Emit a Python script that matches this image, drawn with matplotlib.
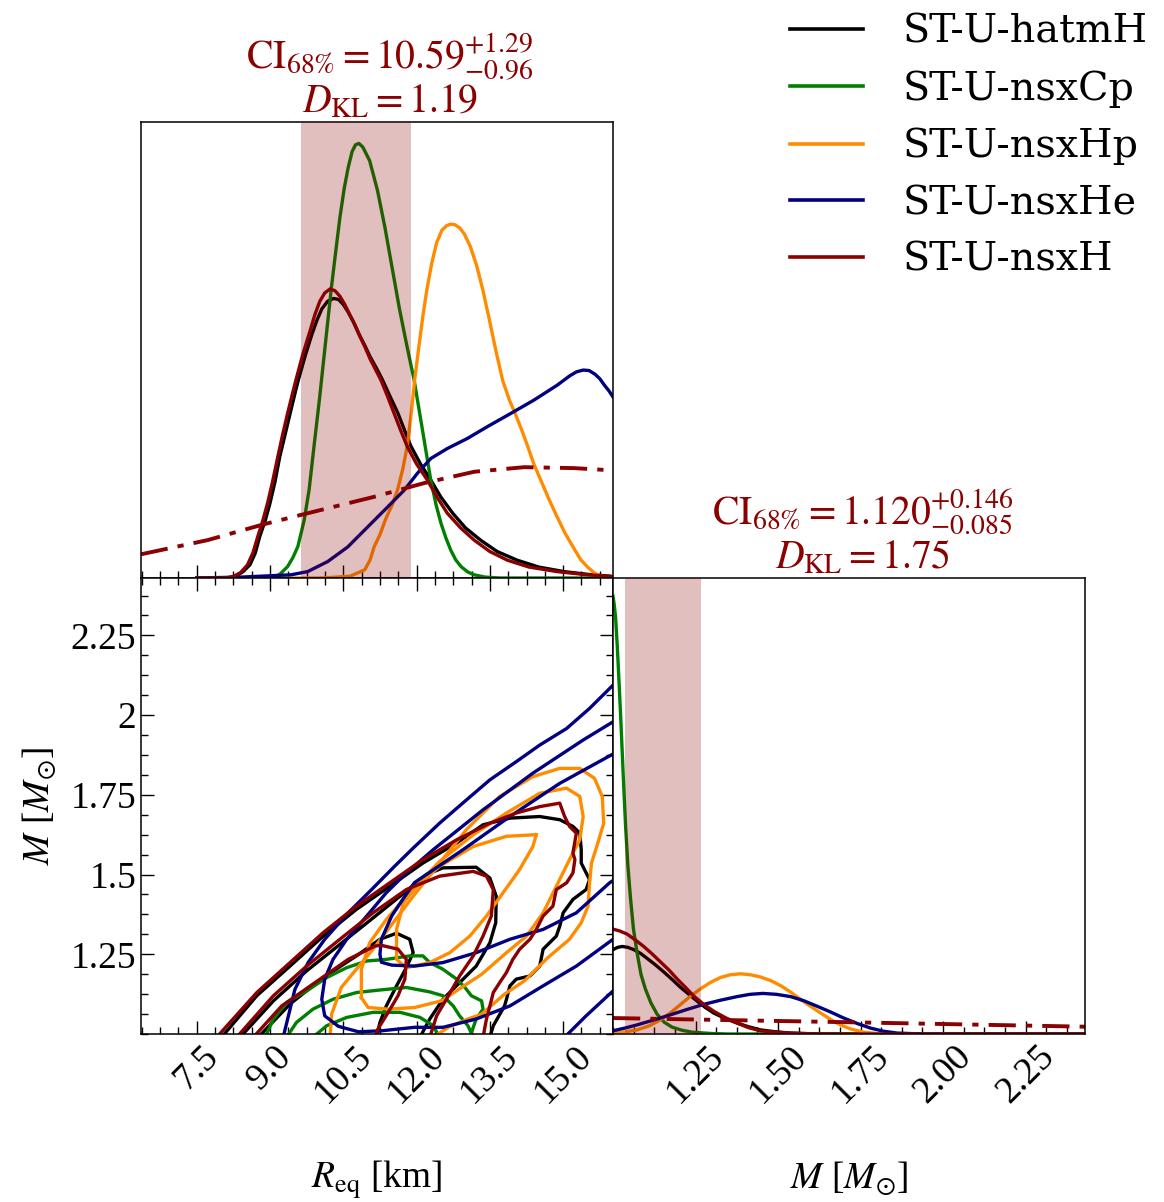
import numpy as np
import matplotlib
matplotlib.use('Agg')
import matplotlib.pyplot as plt
from matplotlib.ticker import FixedLocator, AutoMinorLocator

plt.rcParams['font.family'] = 'serif'
plt.rcParams['font.serif'] = ['Liberation Serif', 'DejaVu Serif']
plt.rcParams['mathtext.fontset'] = 'stix'

# --- series / legend ---
names = ['ST-U-hatmH', 'ST-U-nsxCp', 'ST-U-nsxHp', 'ST-U-nsxHe', 'ST-U-nsxH']
colors = ['black', 'green', 'darkorange', 'navy', 'darkred']

# limits
r_lim = [6.36, 16.02]
m_lim = [1.0, 2.43]

# --- 1D marginal of R_eq (heights as fraction of panel) ---
r_hatmH = [7.5, 8.0, 8.18, 8.30, 8.45, 8.59, 8.70, 8.79, 8.90, 9.00, 9.10, 9.20, 9.31, 9.41, 9.50, 9.58,
           9.72, 9.86, 9.96, 10.06, 10.18, 10.30, 10.40, 10.50, 10.60, 10.70, 10.82, 10.94, 11.05, 11.18,
           11.30, 11.48, 11.62, 11.75, 11.88, 12.08, 12.29, 12.50, 12.74, 13.0, 13.31, 13.65, 14.06, 14.50,
           15.02, 15.50, 15.95, 16.02]
p_hatmH = [0, 0, 0.001, 0.004, 0.014, 0.029, 0.055, 0.091, 0.125, 0.164, 0.21, 0.266, 0.315, 0.36, 0.40, 0.434,
           0.487, 0.535, 0.565, 0.59, 0.607, 0.613, 0.611, 0.60, 0.583, 0.563, 0.535, 0.51, 0.485, 0.46,
           0.435, 0.393, 0.361, 0.325, 0.29, 0.25, 0.215, 0.177, 0.142, 0.11, 0.083, 0.058, 0.039, 0.024,
           0.014, 0.008, 0.004, 0.003]
r_nsxCp = [7.5, 8.6, 9.08, 9.2, 9.36, 9.47, 9.57, 9.70, 9.80, 9.90, 10.01, 10.10, 10.18, 10.26, 10.35, 10.43,
           10.52, 10.60, 10.68, 10.75, 10.82, 10.90, 10.97, 11.04, 11.20, 11.35, 11.50, 11.65, 11.80, 11.95,
           12.12, 12.29, 12.40, 12.50, 12.60, 12.70, 12.80, 12.91, 13.05, 13.18, 13.4, 13.7, 16.02]
p_nsxCp = [0, 0, 0.002, 0.008, 0.025, 0.045, 0.069, 0.127, 0.193, 0.288, 0.39, 0.48, 0.56, 0.64, 0.72, 0.79,
           0.855, 0.90, 0.935, 0.95, 0.953, 0.945, 0.93, 0.915, 0.85, 0.77, 0.68, 0.59, 0.51, 0.434,
           0.325, 0.215, 0.16, 0.12, 0.088, 0.061, 0.04, 0.025, 0.013, 0.007, 0.002, 0, 0]
r_nsxHp = [7.5, 10.0, 10.23, 10.64, 10.94, 11.05, 11.13, 11.25, 11.37, 11.50, 11.61, 11.72, 11.81, 11.90,
           11.96, 12.05, 12.13, 12.21, 12.31, 12.41, 12.52, 12.62, 12.70, 12.78, 12.88, 12.98, 13.10, 13.23,
           13.36, 13.49, 13.62, 13.76, 13.90, 14.02, 14.15, 14.27, 14.40, 14.54, 14.70, 14.85, 15.03, 15.22,
           15.36, 15.50, 15.65, 15.83, 16.02]
p_nsxHp = [0, 0, 0.001, 0.004, 0.018, 0.04, 0.068, 0.095, 0.13, 0.16, 0.193, 0.24, 0.29, 0.37,
           0.434, 0.51, 0.575, 0.632, 0.69, 0.735, 0.763, 0.773, 0.776, 0.775, 0.768, 0.754, 0.727, 0.685,
           0.63, 0.566, 0.50, 0.434, 0.39, 0.36, 0.325, 0.29, 0.25, 0.215, 0.175, 0.14, 0.10, 0.065,
           0.04, 0.024, 0.01, 0.002, 0]
r_nsxHe = [7.5, 8.41, 9.43, 9.77, 10.18, 10.59, 11.00, 11.41, 11.75, 12.02, 12.29, 12.63, 13.04, 13.45,
           13.93, 14.40, 14.88, 15.13, 15.27, 15.41, 15.53, 15.65, 15.75, 15.85, 15.94, 16.02]
p_nsxHe = [0, 0.002, 0.007, 0.014, 0.036, 0.068, 0.112, 0.156, 0.193, 0.230, 0.262, 0.284, 0.306, 0.332,
           0.361, 0.390, 0.423, 0.443, 0.452, 0.456, 0.455, 0.447, 0.437, 0.422, 0.41, 0.397]
r_nsxH = [7.5, 8.0, 8.15, 8.26, 8.40, 8.54, 8.65, 8.75, 8.85, 8.95, 9.05, 9.16, 9.26, 9.36, 9.45, 9.53,
          9.67, 9.82, 9.92, 10.02, 10.12, 10.23, 10.33, 10.43, 10.53, 10.63, 10.74, 10.84, 10.95, 11.05,
          11.16, 11.27, 11.40, 11.54, 11.67, 11.81, 12.0, 12.22, 12.42, 12.63, 12.90, 13.18, 13.50, 13.86,
          14.30, 14.88, 15.40, 15.90, 16.02]
p_nsxH = [0, 0, 0.001, 0.004, 0.012, 0.029, 0.055, 0.091, 0.125, 0.164, 0.21, 0.266, 0.315, 0.361, 0.40, 0.434,
          0.49, 0.542, 0.578, 0.607, 0.625, 0.634, 0.630, 0.618, 0.60, 0.578, 0.555, 0.53, 0.505, 0.48,
          0.457, 0.434, 0.40, 0.361, 0.325, 0.288, 0.25, 0.215, 0.177, 0.142, 0.11, 0.083, 0.058, 0.039,
          0.024, 0.014, 0.008, 0.004, 0.003]
r_prior = [6.36, 7.72, 8.88, 9.77, 11.13, 12.15, 13.18, 14.20, 15.22, 16.02]
p_prior_r = [0.052, 0.083, 0.118, 0.142, 0.178, 0.208, 0.233, 0.243, 0.241, 0.236]

# --- 1D marginal of M ---
m_hatmH = [1.0, 1.014, 1.028, 1.045, 1.063, 1.083, 1.103, 1.128, 1.154, 1.18, 1.205, 1.23, 1.255, 1.28,
           1.305, 1.34, 1.376, 1.41, 1.447, 1.49, 1.538, 1.6, 1.7, 2.43]
q_hatmH = [0.185, 0.190, 0.192, 0.190, 0.185, 0.177, 0.166, 0.152, 0.136, 0.119, 0.102, 0.087, 0.072, 0.058,
           0.046, 0.034, 0.024, 0.016, 0.009, 0.005, 0.002, 0.0005, 0, 0]
m_nsxCp = [1.0, 1.004, 1.008, 1.013, 1.018, 1.023, 1.028, 1.033, 1.038, 1.045, 1.053, 1.062, 1.073, 1.085,
           1.098, 1.115, 1.134, 1.155, 1.179, 1.21, 1.24, 1.30, 1.35, 2.43]
q_nsxCp = [0.96, 0.94, 0.912, 0.85, 0.776, 0.70, 0.617, 0.535, 0.457, 0.37, 0.298, 0.23, 0.178, 0.13,
           0.099, 0.068, 0.043, 0.026, 0.015, 0.008, 0.004, 0.001, 0, 0]
m_nsxHp = [1.0, 1.04, 1.073, 1.11, 1.144, 1.175, 1.205, 1.235, 1.265, 1.295, 1.326, 1.356, 1.386, 1.416,
           1.447, 1.478, 1.508, 1.538, 1.568, 1.598, 1.629, 1.659, 1.689, 1.72, 1.76, 1.80, 1.85, 2.43]
q_nsxHp = [0.002, 0.005, 0.009, 0.018, 0.031, 0.047, 0.065, 0.083, 0.099, 0.113, 0.124, 0.130, 0.132, 0.130,
           0.125, 0.117, 0.106, 0.092, 0.076, 0.061, 0.046, 0.032, 0.020, 0.011, 0.004, 0.001, 0, 0]
m_nsxHe = [1.0, 1.036, 1.073, 1.12, 1.174, 1.225, 1.275, 1.325, 1.376, 1.415, 1.454, 1.495, 1.538, 1.578,
           1.618, 1.66, 1.699, 1.74, 1.78, 1.82, 1.861, 1.92, 1.95, 2.43]
q_nsxHe = [0.007, 0.013, 0.020, 0.030, 0.042, 0.054, 0.065, 0.074, 0.082, 0.087, 0.089, 0.087, 0.082, 0.073,
           0.061, 0.048, 0.035, 0.023, 0.013, 0.006, 0.002, 0.0005, 0, 0]
m_nsxH = [1.0, 1.02, 1.043, 1.068, 1.093, 1.118, 1.144, 1.17, 1.194, 1.22, 1.245, 1.275, 1.305, 1.34,
          1.376, 1.41, 1.447, 1.49, 1.538, 1.6, 1.7, 2.43]
q_nsxH = [0.230, 0.226, 0.219, 0.206, 0.192, 0.176, 0.158, 0.14, 0.121, 0.102, 0.083, 0.065, 0.050, 0.036,
          0.024, 0.014, 0.007, 0.004, 0.002, 0.0005, 0, 0]
m_prior = [1.0, 1.7, 2.43]
q_prior_m = [0.035, 0.026, 0.016]

# credible intervals of ST-U-nsxH
ci_r = [9.63, 11.88]
ci_m = [1.035, 1.266]

# --- 2D credible contours (R_eq, M) ---
cont_hatmH = [
    ([8.01, 8.73, 9.41, 10.09, 10.77, 11.45, 12.13, 12.82, 13.36, 13.91, 14.52, 14.93, 15.20, 15.34, 15.37,
      15.37, 15.54, 15.47, 15.20, 15.00, 14.93, 14.86, 14.59, 14.52, 14.32, 14.04, 13.91, 13.84, 13.80,
      13.57, 13.50],
     [0.99, 1.120, 1.213, 1.307, 1.391, 1.463, 1.536, 1.599, 1.656, 1.677, 1.682, 1.672, 1.651, 1.630, 1.578,
      1.536, 1.484, 1.453, 1.422, 1.380, 1.338, 1.307, 1.266, 1.213, 1.182, 1.172, 1.151, 1.109, 1.088,
      1.026, 0.99]),
    ([8.39, 9.07, 9.75, 10.43, 11.11, 11.79, 12.20, 12.54, 13.22, 13.50, 13.63, 13.62, 13.50, 13.22, 12.88,
      12.54, 12.27, 12.07],
     [0.99, 1.104, 1.198, 1.281, 1.364, 1.448, 1.500, 1.521, 1.523, 1.489, 1.432, 1.349, 1.286, 1.213, 1.161,
      1.109, 1.047, 0.99]),
    ([8.76, 9.41, 10.09, 10.77, 11.25, 11.59, 11.86, 11.93, 11.79, 11.59, 11.38, 11.25, 11.18],
     [0.99, 1.094, 1.177, 1.245, 1.297, 1.316, 1.297, 1.255, 1.208, 1.151, 1.088, 1.036, 0.99]),
]
cont_nsxCp = [
    ([8.90, 9.07, 9.34, 9.75, 10.16, 10.57, 10.98, 11.38, 11.86, 12.13, 12.27, 12.54, 12.82, 12.99, 13.12,
      13.33, 13.36, 13.22, 13.09],
     [0.99, 1.047, 1.099, 1.135, 1.177, 1.208, 1.229, 1.234, 1.245, 1.245, 1.224, 1.203, 1.172, 1.146, 1.120,
      1.104, 1.078, 1.047, 0.99]),
    ([9.34, 9.54, 9.88, 10.29, 10.77, 11.25, 11.79, 12.27, 12.54, 12.75, 12.88, 13.05, 13.16],
     [0.99, 1.036, 1.078, 1.109, 1.130, 1.138, 1.146, 1.132, 1.120, 1.088, 1.057, 1.026, 0.99]),
    ([9.88, 10.16, 10.57, 11.11, 11.66, 12.07, 12.34, 12.47],
     [0.99, 1.026, 1.052, 1.068, 1.068, 1.052, 1.026, 0.99]),
]
cont_nsxHp = [
    ([10.23, 10.26, 10.46, 10.74, 11.11, 11.52, 11.93, 12.47, 13.02, 13.70, 14.38, 14.93, 15.34, 15.64, 15.80,
      15.83, 15.71, 15.58, 15.54, 15.51, 15.37, 15.13, 14.69, 14.21, 13.80, 13.33, 13.05, 12.65, 12.34],
     [0.99, 1.062, 1.146, 1.198, 1.266, 1.349, 1.432, 1.536, 1.641, 1.745, 1.807, 1.833, 1.833, 1.802, 1.745,
      1.661, 1.599, 1.536, 1.474, 1.401, 1.349, 1.297, 1.240, 1.167, 1.125, 1.062, 1.047, 1.021, 0.99]),
    ([10.87, 10.87, 11.04, 11.38, 11.86, 12.47, 13.16, 13.84, 14.52, 15.07, 15.34, 15.41, 15.34, 15.13, 14.86,
      14.59, 14.25, 13.84, 13.33, 12.92, 12.51, 11.96, 11.42, 11.01, 10.87],
     [1.114, 1.203, 1.286, 1.359, 1.443, 1.541, 1.625, 1.693, 1.755, 1.771, 1.745, 1.682, 1.609, 1.547, 1.463,
      1.380, 1.307, 1.255, 1.187, 1.146, 1.104, 1.083, 1.078, 1.083, 1.114]),
    ([14.45, 13.84, 13.16, 12.47, 12.00, 11.73, 11.59, 11.59, 11.79, 12.27, 12.68, 13.09, 13.43, 13.77, 14.11,
      14.38, 14.45],
     [1.625, 1.620, 1.588, 1.526, 1.463, 1.411, 1.328, 1.234, 1.208, 1.224, 1.255, 1.307, 1.370, 1.443, 1.516,
      1.588, 1.625]),
]
cont_nsxHe = [
    ([9.27, 9.51, 9.78, 10.12, 10.60, 11.08, 11.55, 11.93, 12.47, 13.02, 13.50, 14.04, 14.52, 15.07, 15.54,
      16.02, 16.2],
     [0.99, 1.140, 1.224, 1.297, 1.380, 1.453, 1.526, 1.583, 1.661, 1.734, 1.797, 1.854, 1.906, 1.958, 2.021,
      2.094, 2.115]),
    ([15.03, 15.47, 16.02, 16.2], [0.99, 1.057, 1.135, 1.155]),
    ([16.2, 16.02, 15.41, 14.38, 13.36, 12.34, 11.79, 11.38, 10.98, 10.57, 10.29, 10.12, 10.06, 10.12, 10.40,
      10.81, 11.28, 11.96, 12.54, 13.22, 13.91, 14.59, 15.27, 16.02, 16.2],
     [1.995, 1.979, 1.922, 1.818, 1.703, 1.578, 1.505, 1.443, 1.370, 1.297, 1.234, 1.172, 1.109, 1.057, 1.024,
      1.007, 1.010, 1.021, 1.021, 1.047, 1.088, 1.151, 1.213, 1.297, 1.32]),
    ([16.2, 16.02, 14.93, 13.91, 12.95, 11.96, 11.76, 11.49, 11.28, 11.25, 11.28, 11.49, 11.96, 12.54, 13.22,
      13.91, 14.59, 15.27, 15.95, 16.2],
     [1.89, 1.878, 1.786, 1.682, 1.578, 1.475, 1.432, 1.370, 1.297, 1.250, 1.225, 1.216, 1.213, 1.224, 1.255,
      1.297, 1.328, 1.380, 1.474, 1.50]),
]
cont_nsxH = [
    ([7.91, 8.73, 9.41, 10.09, 10.77, 11.45, 12.13, 12.82, 13.50, 14.04, 14.52, 14.93, 15.03, 15.13, 15.27,
      15.20, 15.24, 15.20, 15.07, 14.86, 14.79, 14.59, 14.45, 14.32, 14.11, 13.97, 13.84, 13.70, 13.57,
      13.50, 13.43, 13.36],
     [0.99, 1.130, 1.224, 1.318, 1.401, 1.474, 1.547, 1.609, 1.661, 1.693, 1.713, 1.724, 1.682, 1.651, 1.630,
      1.568, 1.547, 1.505, 1.474, 1.453, 1.401, 1.370, 1.328, 1.297, 1.266, 1.234, 1.193, 1.161, 1.130,
      1.088, 1.047, 0.99]),
    ([8.32, 9.07, 9.75, 10.43, 11.11, 11.79, 12.47, 13.16, 13.43, 13.57, 13.53, 13.36, 13.16, 12.88, 12.61,
      12.41, 12.27],
     [0.99, 1.120, 1.213, 1.297, 1.380, 1.453, 1.495, 1.510, 1.495, 1.453, 1.370, 1.307, 1.245, 1.182, 1.109,
      1.057, 0.99]),
    ([8.66, 9.24, 9.92, 10.60, 11.15, 11.28, 11.62, 11.79, 11.76, 11.62, 11.42, 11.21, 11.15],
     [0.99, 1.088, 1.161, 1.234, 1.276, 1.278, 1.266, 1.234, 1.172, 1.120, 1.068, 1.016, 0.99]),
]

r_curves = [(r_hatmH, p_hatmH), (r_nsxCp, p_nsxCp), (r_nsxHp, p_nsxHp), (r_nsxHe, p_nsxHe), (r_nsxH, p_nsxH)]
m_curves = [(m_hatmH, q_hatmH), (m_nsxCp, q_nsxCp), (m_nsxHp, q_nsxHp), (m_nsxHe, q_nsxHe), (m_nsxH, q_nsxH)]
contours = [cont_hatmH, cont_nsxCp, cont_nsxHp, cont_nsxHe, cont_nsxH]

lw = 2.4
W, H = 1164, 1202
fig = plt.figure(figsize=(W / 100, H / 100), dpi=100)

def box(x0, y0, x1, y1):
    return [x0 / W, 1 - y1 / H, (x1 - x0) / W, (y1 - y0) / H]

ax_r = fig.add_axes(box(141, 122, 613, 578))
ax_rm = fig.add_axes(box(141, 578, 613, 1034))
ax_m = fig.add_axes(box(613, 578, 1085, 1034))

for ax in (ax_r, ax_rm, ax_m):
    for s in ax.spines.values():
        s.set_linewidth(1.1)
    ax.tick_params(which='major', direction='in', length=9.5, width=1.0, labelsize=27)
    ax.tick_params(which='minor', direction='in', length=5, width=1.0)

r_major = [7.5, 9.0, 10.5, 12.0, 13.5, 15.0]
m_major = [1.25, 1.5, 1.75, 2.0, 2.25]
r_labels = ['7.5', '9.0', '10.5', '12.0', '13.5', '15.0']
m_labels_x = ['1.25', '1.50', '1.75', '2.00', '2.25']
m_labels_y = ['1.25', '1.5', '1.75', '2', '2.25']

dash_dot = (7, 2.6, 1.6, 2.6)

# R marginal
for (x, y), c in zip(r_curves, colors):
    ax_r.plot(x, y, color=c, lw=lw)
ax_r.plot(r_prior, p_prior_r, color='darkred', lw=2.8, dashes=dash_dot)
ax_r.axvspan(ci_r[0], ci_r[1], color='darkred', alpha=0.25, lw=0, zorder=5)
ax_r.set_xlim(r_lim)
ax_r.set_ylim(0, 1)
ax_r.set_yticks([])
ax_r.xaxis.set_major_locator(FixedLocator(r_major))
ax_r.xaxis.set_minor_locator(AutoMinorLocator(4))
ax_r.tick_params(axis='x', labelbottom=False)
ax_r.set_title(r'$\mathrm{CI}_{68\%} = 10.59^{+1.29}_{-0.96}$' + '\n' + r'$D_{\mathrm{KL}} = 1.19$',
               color='darkred', fontsize=28.5, pad=7, x=0.528, linespacing=1.05)

# 2D panel
for cont, c in zip(contours, colors):
    for x, y in cont:
        ax_rm.plot(x, y, color=c, lw=lw)
ax_rm.set_xlim(r_lim)
ax_rm.set_ylim(m_lim)
ax_rm.xaxis.set_major_locator(FixedLocator(r_major))
ax_rm.xaxis.set_minor_locator(AutoMinorLocator(4))
ax_rm.yaxis.set_major_locator(FixedLocator(m_major))
ax_rm.yaxis.set_minor_locator(AutoMinorLocator(4))
ax_rm.set_xticklabels(r_labels)
ax_rm.set_yticklabels(m_labels_y)
ax_rm.tick_params(which='both', top=True, right=True)
plt.setp(ax_rm.get_xticklabels(), rotation=45, ha='center')
ax_rm.set_xlabel(r'$R_{\rm eq}$ [km]', fontsize=27)
ax_rm.set_ylabel(r'$M$ [$M_{\odot}$]', fontsize=27)
ax_rm.xaxis.set_label_coords(0.5, -0.274)
ax_rm.yaxis.set_label_coords(-0.176, 0.5)

# M marginal
for (x, y), c in zip(m_curves, colors):
    ax_m.plot(x, y, color=c, lw=lw)
ax_m.plot(m_prior, q_prior_m, color='darkred', lw=2.8, dashes=dash_dot)
ax_m.axvspan(ci_m[0], ci_m[1], color='darkred', alpha=0.25, lw=0, zorder=5)
ax_m.set_xlim(m_lim)
ax_m.set_ylim(0, 1)
ax_m.set_yticks([])
ax_m.xaxis.set_major_locator(FixedLocator(m_major))
ax_m.xaxis.set_minor_locator(AutoMinorLocator(4))
ax_m.set_xticklabels(m_labels_x)
plt.setp(ax_m.get_xticklabels(), rotation=45, ha='center')
ax_m.set_xlabel(r'$M$ [$M_{\odot}$]', fontsize=27)
ax_m.xaxis.set_label_coords(0.5, -0.274)
ax_m.set_title(r'$\mathrm{CI}_{68\%} = 1.120^{+0.146}_{-0.085}$' + '\n' + r'$D_{\mathrm{KL}} = 1.75$',
               color='darkred', fontsize=28.5, pad=7, x=0.528, linespacing=1.05)

# legend
handles = [plt.Line2D([], [], color=c, lw=2.6) for c in colors]
fig.legend(handles, names, loc='upper left', bbox_to_anchor=(770 / W, 1 + 6 / H),
           frameon=False, prop={'family': 'DejaVu Serif', 'size': 28.5}, borderpad=0,
           labelspacing=0.5, handlelength=1.85, handletextpad=1.0)

fig.savefig('out.png', dpi=100)
